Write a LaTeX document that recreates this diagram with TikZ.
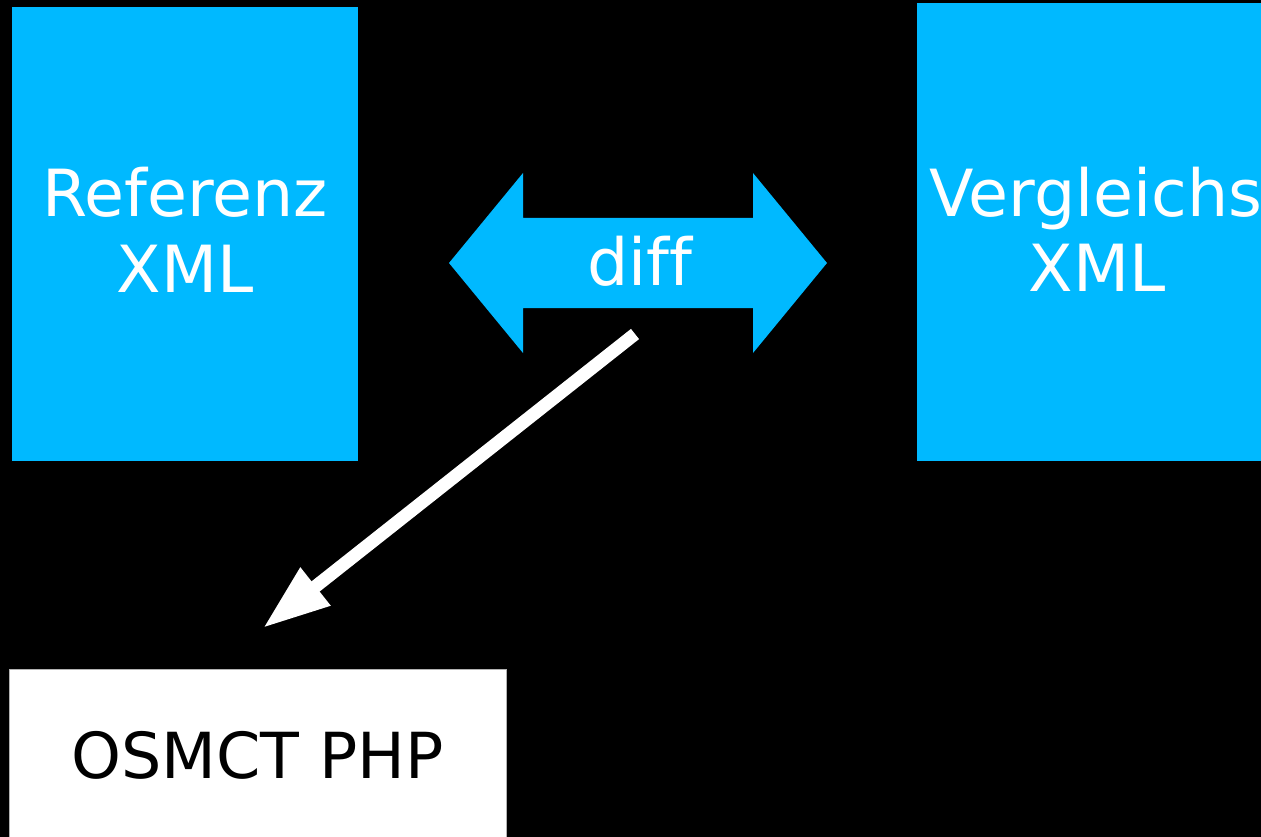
\documentclass[tikz,border=0pt]{standalone}
\usepackage{fontspec}
\setmainfont{DejaVu Sans}[Ligatures={NoCommon}]
\usetikzlibrary{arrows.meta}
\definecolor{cyanbox}{RGB}{0,185,255}
\begin{document}
\begin{tikzpicture}[x=1pt,y=-1pt,
  box/.style={fill=cyanbox, inner sep=0pt, outer sep=0pt},
  txt/.style={text=white, inner sep=0pt, anchor=base, font=\fontsize{65}{75}\selectfont},
  btxt/.style={txt, text=black, font=\fontsize{63.5}{75}\selectfont}]
\fill[black] (0,0) rectangle (1261,837);
\useasboundingbox (0,0) rectangle (1261,837);
\clip (0,0) rectangle (1261,837);
% boxes
\node[box, minimum width=346pt, minimum height=454pt] (ref) at (185,234) {};
\node[box, minimum width=344pt, minimum height=458pt] (verg) at (1089,232) {};
\node[fill=white, draw=gray!60, line width=1pt, minimum width=497pt, minimum height=172pt, inner sep=0pt] (osmct) at (257.5,755) {};
% texts
\node[txt] (reft1) at (185,217) {Referenz};
\node[txt] (reft2) at (185,292) {XML};
\node[txt] (vergt1) at (1096,217) {Vergleichs};
\node[txt] (vergt2) at (1097,291) {XML};
\node[btxt] (osmctt) at (257.5,778) {OSMCT PHP};
% double arrow
\fill[cyanbox] (449,263) -- (523,173) -- (523,218) -- (753,218) -- (753,173) -- (827,263)
  -- (753,353) -- (753,308) -- (523,308) -- (523,353) -- cycle;
\node[txt] (diff) at (640,285) {diff};
% white arrow
\coordinate (a1) at (635,334);
\coordinate (a2) at (263,628);
\draw[white, line width=13pt, -{Triangle[length=67pt,width=45pt]}] (a1) -- (a2);
\end{tikzpicture}
\end{document}
